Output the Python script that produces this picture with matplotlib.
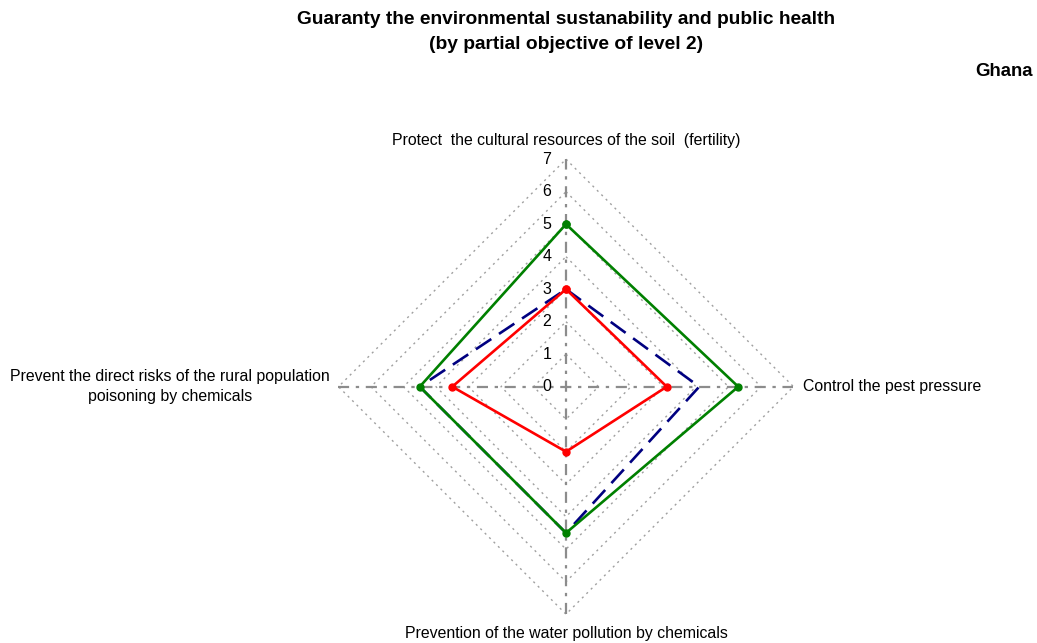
import numpy as np
import matplotlib
matplotlib.use("Agg")
import matplotlib.pyplot as plt

plt.rcParams['font.family'] = ['Liberation Sans', 'DejaVu Sans']

# axes: top, right, bottom, left
axis_labels = ["Protect  the cultural resources of the soil  (fertility)",
               "Control the pest pressure",
               "Prevention of the water pollution by chemicals",
               "Prevent the direct risks of the rural population\npoisoning by chemicals"]
green_vals = [5, 5.3, 4.5, 4.5]
blue_vals = [3, 4.1, 4.5, 4.5]
red_vals = [3, 3.1, 2, 3.5]
ticks = [0, 1, 2, 3, 4, 5, 6, 7]

W, H = 1037, 643
cx, cy = 566, 386.7
scale = 32.5  # pixels per unit

fig = plt.figure(figsize=(W / 100, H / 100), dpi=100)
ax = fig.add_axes([0, 0, 1, 1])
ax.set_xlim(-cx / scale, (W - cx) / scale)
ax.set_ylim(-(H - cy) / scale, cy / scale)
ax.axis('off')

# directions: top, right, bottom, left
dirs = np.array([[0, 1], [1, 0], [0, -1], [-1, 0]])


def to_xy(vals):
    pts = np.array([dirs[i] * v for i, v in enumerate(vals)])
    return np.vstack([pts, pts[:1]])


rmax = ticks[-1]
# grid diamonds
for t in ticks[1:]:
    g = to_xy([t] * 4)
    ax.plot(g[:, 0], g[:, 1], color='#a0a0a0', lw=1.0, ls=(0, (1.5, 3)), zorder=1)

# spokes
ax.plot([-rmax, rmax], [0, 0], color='#8c8c8c', lw=1.6, ls=(0, (5, 3, 1.5, 3)), zorder=2)
ax.plot([0, 0], [-rmax, rmax], color='#8c8c8c', lw=1.6, ls=(0, (5, 3, 1.5, 3)), zorder=2)

# tick labels
for t in ticks:
    ax.text(-0.45, t, str(t), ha='right', va='center', fontsize=11.5, color='black', zorder=3)

# series
b = to_xy(blue_vals)
ax.plot(b[:, 0], b[:, 1], color='#000080', lw=1.9, ls=(0, (7, 3.5)), zorder=4)
g = to_xy(green_vals)
ax.plot(g[:, 0], g[:, 1], color='#008000', lw=1.9, marker='o', ms=5, zorder=5)
r = to_xy(red_vals)
ax.plot(r[:, 0], r[:, 1], color='#ff0000', lw=1.9, marker='o', ms=5, zorder=6)

# axis labels
ax.text(0, rmax + 0.59, axis_labels[0], ha='center', va='center', fontsize=11.4)
ax.text(rmax + 0.3, 0, axis_labels[1], ha='left', va='center', fontsize=11.4)
ax.text(0, -rmax - 0.58, axis_labels[2], ha='center', va='center', fontsize=11.4)
ax.text(-12.18, 0, axis_labels[3], ha='center', va='center', fontsize=11.4,
        multialignment='center', linespacing=1.38)

# titles
fig.text(cx / W, 1 - 32 / H, "Guaranty the environmental sustanability and public health\n(by partial objective of level 2)",
         ha='center', va='center', fontsize=13.8, fontweight='bold', linespacing=1.58)
fig.text(1033 / W, 1 - 71 / H, "Ghana", ha='right', va='center', fontsize=13.4, fontweight='bold')

fig.savefig("out.png", dpi=100)
